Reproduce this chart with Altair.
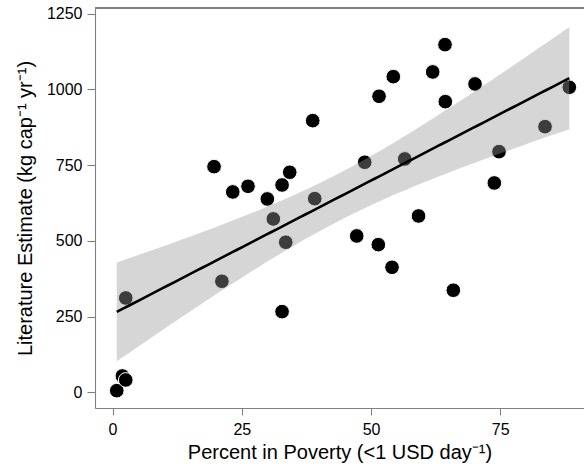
import altair as alt
import numpy as np
import pandas as pd

# Percent of population living on < 1 USD per day
poverty = [0.81, 1.90, 2.55, 2.55, 19.63, 21.15, 23.25, 26.2, 29.94, 31.1, 32.79,
           34.27, 33.5, 32.79, 38.72, 39.11, 47.23, 48.78, 51.55, 51.41, 54.31,
           54.06, 56.52, 59.19, 61.93, 64.31, 64.37, 65.92, 70.12, 73.85, 74.76,
           83.66, 88.36]
# Literature estimate (kg per capita per year)
estimate = [5.3, 53.8, 40.6, 311.4, 745, 366.6, 661.5, 680.3, 638.4, 572.4, 684.6,
            726.5, 495.4, 266.2, 897, 639.4, 516.2, 759.6, 977.5, 487.4, 1042.3,
            412.8, 770.5, 582.2, 1057.8, 1148, 959.7, 336.9, 1018.2, 691.2, 794.6,
            877.1, 1007.3]

x_ticks = [0, 25, 50, 75]
y_ticks = [0, 250, 500, 750, 1000, 1250]

pts = pd.DataFrame({"x": poverty, "y": estimate})

# linear model with 95% confidence band (as geom_smooth(method="lm"))
xa = np.array(poverty)
ya = np.array(estimate)
n = len(xa)
slope, intercept = np.polyfit(xa, ya, 1)
resid = ya - (intercept + slope * xa)
s = np.sqrt(np.sum(resid ** 2) / (n - 2))
sxx = np.sum((xa - xa.mean()) ** 2)
t_crit = 2.0395  # t(0.975, df=31)
grid = np.linspace(xa.min(), xa.max(), 80)
fit = intercept + slope * grid
se = s * np.sqrt(1.0 / n + (grid - xa.mean()) ** 2 / sxx)
band = pd.DataFrame({"x": grid, "fit": fit, "lo": fit - t_crit * se, "hi": fit + t_crit * se})

W, H = 489, 400
xscale = alt.Scale(domain=[-3.4, 91.2], nice=False, zero=False)
yscale = alt.Scale(domain=[-52, 1269], nice=False, zero=False)

FONT = "Liberation Sans"
GREY = "#808080"

xaxis = alt.Axis(values=x_ticks, format="d", title="Percent in Poverty (<1 USD day\u207b\u00b9)",
                 grid=False, domainColor=GREY, domainWidth=1.1, tickColor=GREY,
                 tickWidth=1.1, tickSize=7, labelPadding=6, labelFontSize=16,
                 labelColor="#000000", labelFont=FONT, titleFont=FONT,
                 titleFontSize=20, titleFontWeight="normal", titleColor="#000000",
                 titlePadding=5)
yaxis = alt.Axis(values=y_ticks, format="d", title="Literature Estimate (kg cap\u207b\u00b9 yr\u207b\u00b9)",
                 grid=False, domainColor=GREY, domainWidth=1.1, tickColor=GREY,
                 tickWidth=1.1, tickSize=8, labelPadding=5, labelFontSize=16,
                 labelColor="#000000", labelFont=FONT, titleFont=FONT,
                 titleFontSize=20, titleFontWeight="normal", titleColor="#000000",
                 titlePadding=11)

points = alt.Chart(pts).mark_circle(
    size=215, color="#000000", opacity=1, stroke="#ffffff", strokeWidth=1
).encode(
    x=alt.X("x:Q", scale=xscale, axis=xaxis),
    y=alt.Y("y:Q", scale=yscale, axis=yaxis),
)

ribbon = alt.Chart(band).mark_area(color="#999999", opacity=0.4).encode(
    x=alt.X("x:Q", scale=xscale),
    y=alt.Y("lo:Q", scale=yscale),
    y2="hi:Q",
)

line = alt.Chart(band).mark_line(color="#000000", strokeWidth=2.6).encode(
    x=alt.X("x:Q", scale=xscale),
    y=alt.Y("fit:Q", scale=yscale),
)

top_border = alt.Chart(pts).mark_rule(color=GREY, strokeWidth=1.1).encode(
    x=alt.value(0), x2=alt.value(W), y=alt.value(0)
)

chart = alt.layer(points, ribbon, line, top_border).properties(
    width=W, height=H,
    autosize=alt.AutoSizeParams(type="none"),
    padding={"left": 95, "top": 8, "right": 0, "bottom": 64},
).configure_view(stroke=None).configure(background="#ffffff")

chart.save("out.html", embed_options={"renderer": "svg", "actions": False})
